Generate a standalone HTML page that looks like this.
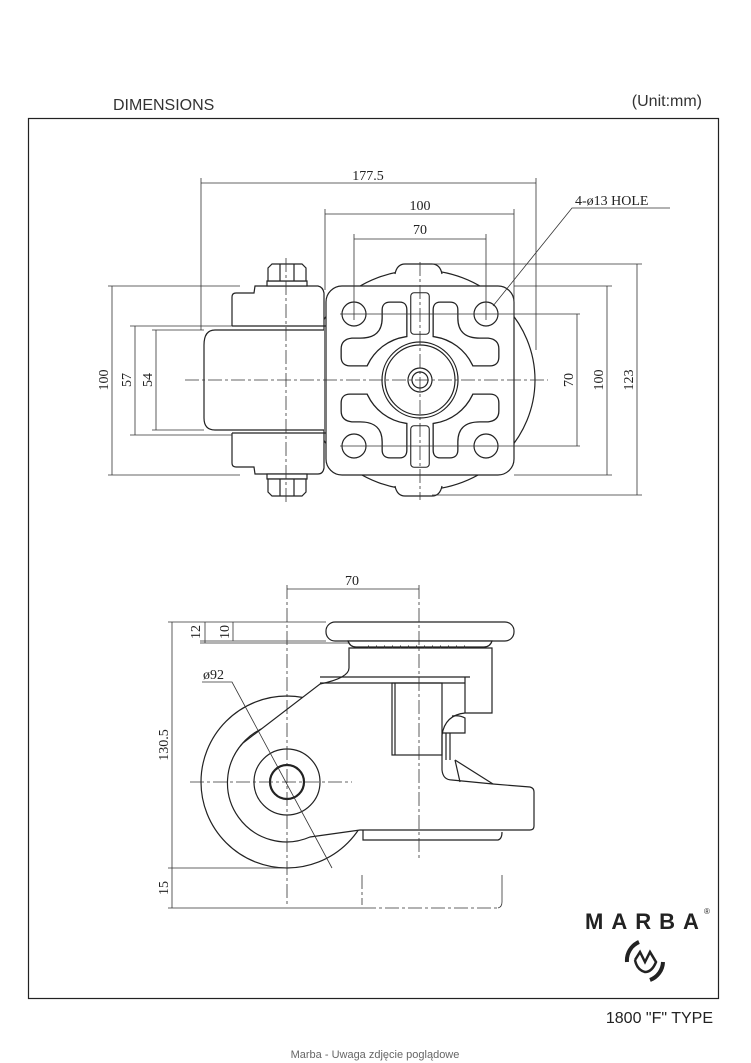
<!DOCTYPE html>
<html><head><meta charset="utf-8"><style>
html,body{margin:0;padding:0;background:#fff;}
svg{display:block;}
.o{fill:none;stroke:#222;stroke-width:1.2}
.w{fill:#fff;stroke:#222;stroke-width:1.2}
.d{fill:none;stroke:#333;stroke-width:0.8}
.c{fill:none;stroke:#333;stroke-width:0.8;stroke-dasharray:14 3 3 3}
.dn{font-family:"Liberation Serif",serif;font-size:14px;fill:#222}
</style></head><body>
<svg width="751" height="1063" viewBox="0 0 751 1063" xmlns="http://www.w3.org/2000/svg">
<rect x="0" y="0" width="751" height="1063" fill="#fff"/>
<text x="113" y="110" font-family="Liberation Sans,sans-serif" font-size="16" fill="#333">DIMENSIONS</text>
<text x="702" y="106" text-anchor="end" font-family="Liberation Sans,sans-serif" font-size="16" fill="#333">(Unit:mm)</text>
<rect x="28.5" y="118.5" width="690" height="880" fill="none" stroke="#222" stroke-width="1.2"/>
<text x="713" y="1023" text-anchor="end" font-family="Liberation Sans,sans-serif" font-size="16" fill="#222">1800 "F" TYPE</text>
<text x="375" y="1058" text-anchor="middle" font-family="Liberation Sans,sans-serif" font-size="11" fill="#666">Marba - Uwaga zdjęcie poglądowe</text>

<!-- TOP VIEW -->
<ellipse cx="420" cy="380" rx="115" ry="110" class="o"/>
<path d="M395,274 Q397,264 405,264 L432,264 Q440,264 442,274" class="w"/>
<path d="M395,486 Q397,496 405,496 L432,496 Q440,496 442,486" class="w"/>
<path d="M232,326 L232,297 Q232,293 236,293 L254,293 L255,286 L318,286 Q323,287 324,293 L324,468 Q323,474 318,474 L255,474 L254,467 L236,467 Q232,467 232,463 L232,433" class="w"/>
<line x1="232" y1="326" x2="326" y2="326" class="o"/>
<line x1="232" y1="433" x2="326" y2="433" class="o"/>
<path d="M324,330 L215,330 Q204,330 204,345 L204,418 Q204,430 215,430 L324,430" class="w"/>
<rect x="267" y="281" width="40" height="5" class="w"/>
<path d="M268,281 L268,268 L272,264 L302,264 L306,268 L306,281 Z" class="w"/>
<line x1="280" y1="264" x2="280" y2="281" class="o"/><line x1="294" y1="264" x2="294" y2="281" class="o"/>
<rect x="267" y="474" width="40" height="5" class="w"/>
<path d="M268,479 L268,492 L272,496 L302,496 L306,492 L306,479 Z" class="w"/>
<line x1="280" y1="479" x2="280" y2="496" class="o"/><line x1="294" y1="479" x2="294" y2="496" class="o"/>
<rect x="326" y="286" width="188" height="189" rx="16" class="w"/>
<g id="cut">
<path d="M390,304 L400,304 Q405,304 405,310 L405,335 A52 52 0 0 0 366,364 L350,364 Q343,364 343,357 L343,349 Q343,341 352,340 L360,340 Q384,340 384,318 L384,310 Q384,304 390,304 Z" fill="none" stroke="#222" stroke-width="5"/>
<path d="M390,304 L400,304 Q405,304 405,310 L405,335 A52 52 0 0 0 366,364 L350,364 Q343,364 343,357 L343,349 Q343,341 352,340 L360,340 Q384,340 384,318 L384,310 Q384,304 390,304 Z" fill="#fff" stroke="#fff" stroke-width="2.4"/>
</g>
<use href="#cut" transform="translate(840,0) scale(-1,1)"/>
<use href="#cut" transform="translate(0,760) scale(1,-1)"/>
<use href="#cut" transform="translate(840,760) scale(-1,-1)"/>
<rect x="412" y="294" width="16" height="39" rx="2" fill="none" stroke="#222" stroke-width="3.6"/>
<rect x="412" y="294" width="16" height="39" rx="2" fill="#fff" stroke="#fff" stroke-width="1.4"/>
<rect x="412" y="427" width="16" height="39" rx="2" fill="none" stroke="#222" stroke-width="3.6"/>
<rect x="412" y="427" width="16" height="39" rx="2" fill="#fff" stroke="#fff" stroke-width="1.4"/>
<circle cx="354" cy="314" r="12" class="w"/><circle cx="486" cy="314" r="12" class="w"/>
<circle cx="354" cy="446" r="12" class="w"/><circle cx="486" cy="446" r="12" class="w"/>
<circle cx="420" cy="380" r="38" class="o"/><circle cx="420" cy="380" r="35" class="o"/>
<circle cx="420" cy="380" r="12" class="o"/><circle cx="420" cy="380" r="8" class="o"/>
<line x1="185" y1="380" x2="548" y2="380" class="c"/>
<line x1="286" y1="258" x2="286" y2="505" class="c"/>
<line x1="420" y1="262" x2="420" y2="500" class="c"/>
<line x1="340" y1="314" x2="500" y2="314" class="d"/><line x1="340" y1="446" x2="500" y2="446" class="d"/>
<line x1="201" y1="178" x2="201" y2="330" class="d"/><line x1="536" y1="178" x2="536" y2="350" class="d"/>
<line x1="201" y1="183" x2="536" y2="183" class="d"/>
<text x="368" y="180" text-anchor="middle" class="dn">177.5</text>
<line x1="325" y1="209" x2="325" y2="290" class="d"/><line x1="514" y1="209" x2="514" y2="320" class="d"/>
<line x1="325" y1="214" x2="514" y2="214" class="d"/>
<text x="420" y="210" text-anchor="middle" class="dn">100</text>
<line x1="354" y1="234" x2="354" y2="320" class="d"/><line x1="486" y1="234" x2="486" y2="320" class="d"/>
<line x1="354" y1="239" x2="486" y2="239" class="d"/>
<text x="420" y="234" text-anchor="middle" class="dn">70</text>
<polyline points="493,306 572,208 670,208" class="d"/>
<text x="575" y="205" class="dn" font-size="13">4-ø13 HOLE</text>
<line x1="108" y1="286" x2="240" y2="286" class="d"/><line x1="108" y1="475" x2="240" y2="475" class="d"/>
<line x1="112" y1="286" x2="112" y2="475" class="d"/>
<text transform="translate(108,380) rotate(-90)" text-anchor="middle" class="dn">100</text>
<line x1="130" y1="326" x2="232" y2="326" class="d"/><line x1="130" y1="435" x2="232" y2="435" class="d"/>
<line x1="135" y1="326" x2="135" y2="435" class="d"/>
<text transform="translate(131,380) rotate(-90)" text-anchor="middle" class="dn">57</text>
<line x1="152" y1="330" x2="204" y2="330" class="d"/><line x1="152" y1="430" x2="204" y2="430" class="d"/>
<line x1="156" y1="330" x2="156" y2="430" class="d"/>
<text transform="translate(152,380) rotate(-90)" text-anchor="middle" class="dn">54</text>
<line x1="577" y1="314" x2="577" y2="446" class="d"/><line x1="500" y1="314" x2="580" y2="314" class="d"/><line x1="500" y1="446" x2="580" y2="446" class="d"/>
<text transform="translate(573,380) rotate(-90)" text-anchor="middle" class="dn">70</text>
<line x1="514" y1="286" x2="612" y2="286" class="d"/><line x1="514" y1="475" x2="612" y2="475" class="d"/>
<line x1="607" y1="286" x2="607" y2="475" class="d"/>
<text transform="translate(603,380) rotate(-90)" text-anchor="middle" class="dn">100</text>
<line x1="432" y1="264" x2="642" y2="264" class="d"/><line x1="432" y1="495" x2="642" y2="495" class="d"/>
<line x1="637" y1="264" x2="637" y2="495" class="d"/>
<text transform="translate(633,380) rotate(-90)" text-anchor="middle" class="dn">123</text>

<!-- SIDE VIEW -->
<circle cx="287" cy="782" r="86" class="w"/>
<circle cx="287" cy="782" r="59" class="o"/>
<path d="M349,648 L492,648 L492,713 L465,713 Q445,715 442,735 L442,770 Q443,780 452,780 L493,784 L530,787 Q534,788 534,792 L534,826 Q534,830 530,830 L360,830 L310,837 A59 59 0 0 1 243,743 L320,684 Q349,678 349,668 Z" class="w"/>
<line x1="320" y1="677" x2="470" y2="677" class="o"/><line x1="320" y1="683" x2="465" y2="683" class="o"/>
<line x1="465" y1="677" x2="465" y2="713" class="o"/>
<rect x="392" y="683" width="50" height="72" class="o"/>
<line x1="395" y1="683" x2="395" y2="755" class="o"/>
<path d="M442,733 L465,733 L465,718 Q460,715 452,716" class="o"/>
<line x1="446" y1="733" x2="446" y2="760" class="o"/><line x1="450" y1="733" x2="450" y2="760" class="o"/>
<line x1="455" y1="760" x2="493" y2="784" class="o"/><line x1="455" y1="760" x2="460" y2="782" class="o"/>
<path d="M363,830 L363,840 L498,840 Q502,839 502,832" class="o"/>
<circle cx="287" cy="782" r="33" class="o"/>
<circle cx="287" cy="782" r="17" fill="#fff" stroke="#222" stroke-width="2.2"/>
<rect x="326" y="622" width="188" height="19" rx="9" class="w"/>
<path d="M348,641 L492,641 Q490,647 484,647 L356,647 Q350,647 348,641 Z" class="w"/>
<line x1="368" y1="647" x2="470" y2="647" stroke="#333" stroke-width="3" stroke-dasharray="1 7"/>
<line x1="287" y1="585" x2="287" y2="905" class="c"/>
<line x1="419" y1="585" x2="419" y2="860" class="c"/>
<line x1="190" y1="782" x2="352" y2="782" class="c" stroke-dasharray="12 5"/>
<line x1="287" y1="589" x2="419" y2="589" class="d"/>
<text x="352" y="585" text-anchor="middle" class="dn">70</text>
<line x1="168" y1="622" x2="326" y2="622" class="d"/>
<line x1="200" y1="641" x2="326" y2="641" class="d"/>
<line x1="200" y1="643" x2="350" y2="643" class="d"/>
<line x1="205" y1="622" x2="205" y2="643" class="d"/>
<line x1="233" y1="622" x2="233" y2="641" class="d"/>
<text transform="translate(200,632) rotate(-90)" text-anchor="middle" class="dn" font-size="12">12</text>
<text transform="translate(229,632) rotate(-90)" text-anchor="middle" class="dn" font-size="12">10</text>
<line x1="172" y1="622" x2="172" y2="908" class="d"/>
<line x1="168" y1="868" x2="287" y2="868" class="d"/>
<line x1="168" y1="908" x2="362" y2="908" class="d"/>
<line x1="362" y1="908" x2="500" y2="908" class="c"/>
<line x1="362" y1="875" x2="362" y2="905" class="c"/>
<path d="M502,875 L502,902 Q502,907 498,908" class="d"/>
<text transform="translate(168,745) rotate(-90)" text-anchor="middle" class="dn">130.5</text>
<text transform="translate(168,888) rotate(-90)" text-anchor="middle" class="dn">15</text>
<text x="203" y="679" class="dn" font-size="13">ø92</text>
<polyline points="202,682 232,682 332,868" class="d"/>

<!-- logo -->
<text x="646" y="929" text-anchor="middle" font-family="Liberation Sans,sans-serif" font-weight="bold" font-size="22" letter-spacing="8" fill="#222">MARBA</text>
<text x="704" y="914" font-family="Liberation Sans,sans-serif" font-size="8" fill="#222">®</text>
<path d="M639,942 A20 20 0 0 0 627,962" fill="none" stroke="#222" stroke-width="4"/>
<path d="M663,962 A20 20 0 0 1 650,980" fill="none" stroke="#222" stroke-width="4"/>
<path d="M635,960 L640,952 L645,962 L650,952 L656,962 Q652,972 645,972 Q637,970 635,960" fill="none" stroke="#222" stroke-width="2.5"/>
</svg>
</body></html>
